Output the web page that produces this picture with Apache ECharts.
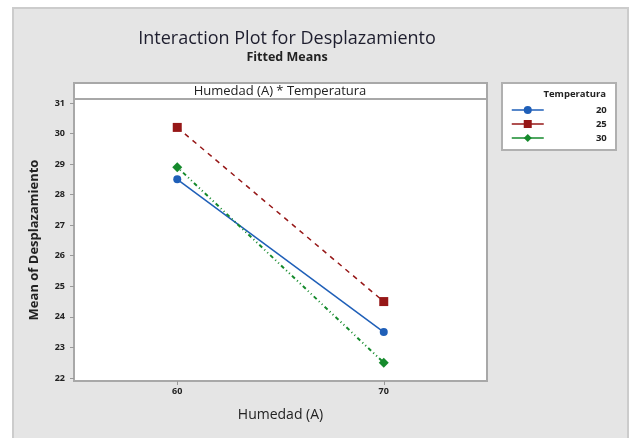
<!DOCTYPE html>
<html>
<head>
<meta charset="utf-8">
<script src="https://cdn.jsdelivr.net/npm/echarts@6/dist/echarts.min.js"></script>
<style>
  html, body { margin: 0; padding: 0; background: #ffffff; }
  #chart { width: 630px; height: 438px; }
</style>
</head>
<body>
<div id="chart"></div>
<script>
// Humidity levels (factor A) on the x axis
const humedad = [60, 70];
// Temperature groups and their fitted means at each humidity level
const temperaturas = ['20', '25', '30'];
const medias20 = [28.5, 23.5];
const medias25 = [30.2, 24.5];
const medias30 = [28.9, 22.5];
// Tick labels
const yTicks = [22, 23, 24, 25, 26, 27, 28, 29, 30, 31];
const xTicks = [60, 70];

const seriesValues = [medias20, medias25, medias30];
const colors = ['#1f5fb8', '#961717', '#158a2c'];
const symbols = ['circle', 'rect', 'diamond'];
const symbolSizes = [8, 9, 10];
const lineTypes = ['solid', [5, 5], [1, 3, 1, 3, 4, 3]];

const chart = echarts.init(document.getElementById('chart'));
const font = '"Open Sans", "Liberation Sans", sans-serif';

chart.setOption({
  animation: false,
  textStyle: { fontFamily: font },
  graphic: [
    // outer panel
    { type: 'rect', shape: { x: 13, y: 8, width: 615, height: 440 },
      style: { fill: '#e5e5e5', stroke: '#cccccc', lineWidth: 2 }, z: -10 },
    // panel header above the plot
    { type: 'rect', shape: { x: 74, y: 83, width: 413, height: 16 },
      style: { fill: '#ffffff', stroke: '#a8a8a8', lineWidth: 2 }, z: 1 },
    { type: 'text', x: 280, y: 91, z: 2,
      style: { text: 'Humedad (A) * Temperatura', font: '13px ' + font, fill: '#222',
               align: 'center', verticalAlign: 'middle' } },
    // legend box
    { type: 'rect', shape: { x: 502, y: 83, width: 114, height: 67 },
      style: { fill: '#ffffff', stroke: '#b0b0b0', lineWidth: 2 }, z: 1 },
    { type: 'text', x: 606, y: 94, z: 2,
      style: { text: 'Temperatura', font: 'bold 9.5px ' + font, fill: '#222',
               align: 'right', verticalAlign: 'middle' } }
  ],
  title: {
    text: 'Interaction Plot for Desplazamiento',
    subtext: 'Fitted Means',
    left: 282, top: 25, textAlign: 'center', itemGap: 3,
    textStyle: { fontFamily: font, fontSize: 18, fontWeight: 'normal', color: '#1e1e2e' },
    subtextStyle: { fontFamily: font, fontSize: 12.5, fontWeight: 'bold', color: '#222' }
  },
  legend: {
    orient: 'vertical', left: 506, top: 100, itemGap: 4,
    itemWidth: 32, itemHeight: 10,
    data: temperaturas,
    lineStyle: { type: 'solid', width: 1.5 },
    textStyle: {
      fontFamily: font, fontSize: 9.5, fontWeight: 'bold', color: '#222',
      rich: { v: { width: 58, align: 'right', fontSize: 9.5, fontWeight: 'bold', color: '#222' } }
    },
    formatter: function (n) { return '{v|' + n + '}'; }
  },
  grid: {
    left: 74, top: 99, right: 143, bottom: 57,
    show: true, backgroundColor: '#ffffff', borderColor: '#a8a8a8', borderWidth: 2
  },
  xAxis: {
    type: 'value', min: 55, max: 75,
    name: 'Humedad (A)', nameLocation: 'middle', nameGap: 27,
    nameTextStyle: { fontFamily: font, fontSize: 14, color: '#222' },
    axisLine: { show: false },
    splitLine: { show: false },
    axisTick: { show: true, length: 4, inside: false, customValues: xTicks,
                lineStyle: { color: '#999' } },
    axisLabel: { customValues: xTicks, fontSize: 9, fontWeight: 'bold', color: '#222', margin: 6 }
  },
  yAxis: {
    type: 'value', min: 21.9, max: 31.13,
    name: 'Mean of Desplazamiento', nameLocation: 'middle', nameGap: 33, nameRotate: 90,
    nameTextStyle: { fontFamily: font, fontSize: 13, fontWeight: 'bold', color: '#222' },
    axisLine: { show: false },
    splitLine: { show: false },
    axisTick: { show: true, length: 4, customValues: yTicks, lineStyle: { color: '#999' } },
    axisLabel: { customValues: yTicks, fontSize: 9, fontWeight: 'bold', color: '#222', margin: 9 }
  },
  series: temperaturas.map(function (t, i) {
    return {
      name: t, type: 'line',
      data: humedad.map(function (h, j) { return [h, seriesValues[i][j]]; }),
      symbol: symbols[i], symbolSize: symbolSizes[i],
      itemStyle: { color: colors[i] },
      lineStyle: { color: colors[i], width: i === 2 ? 2 : 1.5, type: lineTypes[i] },
      z: 3 + i
    };
  })
});
</script>
</body>
</html>
